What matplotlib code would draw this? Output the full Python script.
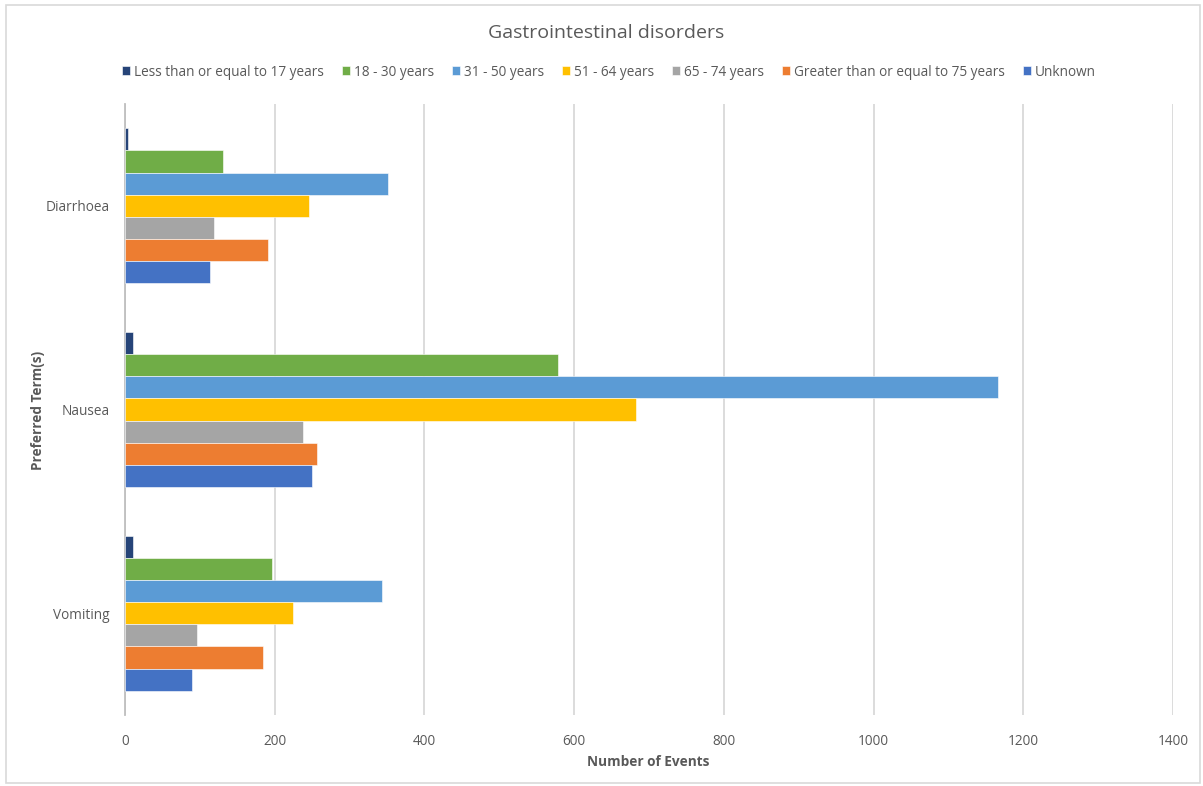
import numpy as np
import matplotlib
matplotlib.use("Agg")
from matplotlib import pyplot as plt
from matplotlib.patches import Rectangle

plt.rcParams['font.family'] = ['Open Sans', 'DejaVu Sans']

terms = ['Diarrhoea', 'Nausea', 'Vomiting']
groups = ['Less than or equal to 17 years', '18 - 30 years', '31 - 50 years',
          '51 - 64 years', '65 - 74 years', 'Greater than or equal to 75 years',
          'Unknown']
le17 = [4, 11, 11]
a18_30 = [131, 578, 196]
a31_50 = [352, 1166, 343]
a51_64 = [246, 682, 225]
a65_74 = [119, 238, 96]
ge75 = [191, 256, 185]
unknown = [114, 250, 89]
series = [le17, a18_30, a31_50, a51_64, a65_74, ge75, unknown]
colors = ['#264478', '#70AD47', '#5B9BD5', '#FFC000', '#A5A5A5', '#ED7D31', '#4472C4']

W, H = 1203, 786
fig = plt.figure(figsize=(W / 100, H / 100), dpi=100)
ax = fig.add_axes([125 / W, 1 - 715 / H, (1173 - 125) / W, (715 - 104) / H])

grey = '#595959'
y = np.arange(len(terms))
bh = 0.761 / len(series)
for i, (vals, c, lab) in enumerate(zip(series, colors, groups)):
    off = (i - (len(series) - 1) / 2) * bh
    ax.barh(y + off, vals, height=bh, color=c, label=lab,
            edgecolor='#ffffff', linewidth=0.4, zorder=3)

ax.set_xlim(0, 1400)
ax.set_ylim(2.5, -0.5)
ax.set_xticks(np.arange(0, 1401, 200))
ax.set_yticks(y)
ax.set_yticklabels(terms)
ax.grid(axis='x', color='#D9D9D9', linewidth=1.3, zorder=0)
ax.tick_params(axis='both', length=0, colors=grey, labelsize=9.8)
ax.tick_params(axis='x', pad=14)
ax.tick_params(axis='y', pad=11)
for s in ['top', 'right', 'bottom']:
    ax.spines[s].set_visible(False)
ax.spines['left'].set_color('#BFBFBF')
ax.spines['left'].set_linewidth(1.3)

fig.text(648 / W, 1 - 762 / H, 'Number of Events', ha='center', va='center',
         color=grey, fontsize=9.8, fontweight='bold')
fig.text(38 / W, 1 - 410 / H, 'Preferred Term(s)', ha='center', va='center', rotation=90,
         color=grey, fontsize=9.8, fontweight='bold')
fig.text(606 / W, 1 - 33 / H, 'Gastrointestinal disorders', ha='center', va='center',
         color=grey, fontsize=14)

fig.legend(loc='center', bbox_to_anchor=(609 / W, 1 - 72 / H), ncol=7, frameon=False,
           fontsize=9.8, handlelength=0.6, handleheight=0.6, handletextpad=0.3,
           columnspacing=1.3, labelcolor=grey)

fig.patches.append(Rectangle((6 / W, 1 - 783 / H), (1200 - 6) / W, (783 - 5) / H,
                             transform=fig.transFigure, fill=False,
                             edgecolor='#D9D9D9', linewidth=1.2))

fig.savefig('out.png', dpi=100)
